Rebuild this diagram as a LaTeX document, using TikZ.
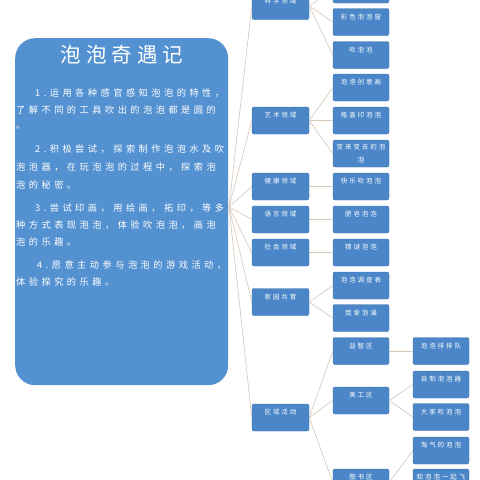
\documentclass[tikz,border=0pt]{standalone}
\usepackage{fontspec}
\newfontfamily\cjkb[LetterSpace=30]{Noto Sans CJK SC}
\newfontfamily\cjkp[LetterSpace=38]{Noto Sans CJK SC}
\newfontfamily\cjkt[LetterSpace=25]{Noto Sans CJK SC}
\definecolor{bigblue}{RGB}{84,145,209}
\definecolor{boxblue}{RGB}{74,134,200}
\definecolor{conn}{RGB}{214,198,182}
\tikzset{
  x=1pt,y=-1pt,
  mbox/.style={draw=boxblue!85!black,line width=0.4pt,fill=boxblue,rounded corners=2pt,
    minimum width=#1,minimum height=27pt,inner xsep=1pt,inner ysep=3pt,
    text height=7.5pt,text depth=13.5pt,text=white,font=\cjkb\fontsize{6.5}{8}\selectfont,anchor=center},
  mbox/.default=57pt,
  para/.style={anchor=west,inner sep=0pt,text=white,font=\cjkp\fontsize{9.2}{11}\selectfont},
  cline/.style={draw=conn,line width=0.6pt},
}
\begin{document}
\begin{tikzpicture}
\useasboundingbox (0,0) rectangle (480,480);
\clip (0,0) rectangle (480,480);
\fill[white] (0,0) rectangle (480,480);
% big left box
\node[draw=none,fill=bigblue,rounded corners=20pt,minimum width=213pt,minimum height=347pt,anchor=north west,inner sep=0pt] (big) at (15,38) {};
\node[text=white,font=\cjkt\fontsize{20.5}{24}\selectfont,inner sep=0pt] (title) at (122,55) {泡泡奇遇记};
\node[para] (p1) at (35,93) {1.运用各种感官感知泡泡的特性，};
\node[para] (p2) at (16,110) {了解不同的工具吹出的泡泡都是圆的};
\node[para] (p3) at (16,128) {。};
\node[para] (p4) at (35,149) {2.积极尝试，探索制作泡泡水及吹};
\node[para] (p5) at (16,167) {泡泡器，在玩泡泡的过程中，探索泡};
\node[para] (p6) at (16,185) {泡的秘密。};
\node[para] (p7) at (35,208) {3.尝试印画，用绘画，拓印，等多};
\node[para] (p8) at (16,225) {种方式表现泡泡，体验吹泡泡，画泡};
\node[para] (p9) at (16,242) {泡的乐趣。};
\node[para] (p10) at (37,265) {4.愿意主动参与泡泡的游戏活动，};
\node[para] (p11) at (16,282) {体验探究的乐趣。};
\coordinate (hub) at (229,207);
% level 1
\node[mbox] (kx) at (280.5,6) {科学领域};
\node[mbox] (ys) at (280.5,120.5) {艺术领域};
\node[mbox] (jk) at (280.5,186.5) {健康领域};
\node[mbox] (yy) at (280.5,219.5) {语言领域};
\node[mbox] (sh) at (280.5,252.5) {社会领域};
\node[mbox] (jy) at (280.5,302) {家园共育};
\node[mbox] (qy) at (280.5,417.5) {区域活动};
% level 2
\node[mbox=56pt] (t0) at (361,-10.5) {};
\node[mbox=56pt] (cs) at (361,22) {彩色泡泡窗};
\node[mbox=56pt] (cpp) at (361,55) {吹泡泡};
\node[mbox=56pt] (cy) at (361,87.5) {泡泡创意画};
\node[mbox=56pt] (pg) at (361,120.5) {瓶盖印泡泡};
\node[draw=boxblue!85!black,line width=0.4pt,fill=boxblue,rounded corners=2pt,minimum width=56pt,minimum height=27pt,inner sep=1pt,text=white,font=\cjkb\fontsize{6.5}{14}\selectfont,align=center] (bl) at (361,153.5) {变来变去的泡\\[-0.5pt]泡};
\node[mbox=56pt] (kl) at (361,186.5) {快乐吹泡泡};
\node[mbox=56pt] (fz) at (361,219.5) {肥皂泡泡};
\node[mbox=56pt] (cm) at (361,252.5) {猜谜泡泡};
\node[mbox=56pt] (dc) at (361,285.5) {泡泡调查表};
\node[mbox=56pt] (wa) at (361,318) {我爱泡澡};
\node[mbox=56pt] (yz) at (361,351) {益智区};
\node[mbox=56pt] (mg) at (361,400.5) {美工区};
\node[mbox=56pt] (ts) at (361,482.5) {图书区};
% level 3
\node[mbox=56pt] (pp) at (441,351) {泡泡排排队};
\node[mbox=56pt] (zz) at (441,384.5) {自制泡泡器};
\node[mbox=56pt] (dj) at (441,417) {大家吹泡泡};
\node[mbox=56pt] (tq) at (441,450.5) {淘气的泡泡};
\node[mbox=56pt] (hp) at (441,482.5) {和泡泡一起飞};
% connectors
\foreach \n in {kx,ys,jk,yy,sh,jy,qy} \draw[cline] (hub) -- (\n.west);
\foreach \a/\b in {kx/t0,kx/cs,kx/cpp,ys/cy,ys/pg,ys/bl,jk/kl,yy/fz,sh/cm,jy/dc,jy/wa,qy/yz,qy/mg,qy/ts,yz/pp,mg/zz,mg/dj,ts/tq,ts/hp}
  \draw[cline] (\a.east) -- (\b.west);
\end{tikzpicture}
\end{document}
